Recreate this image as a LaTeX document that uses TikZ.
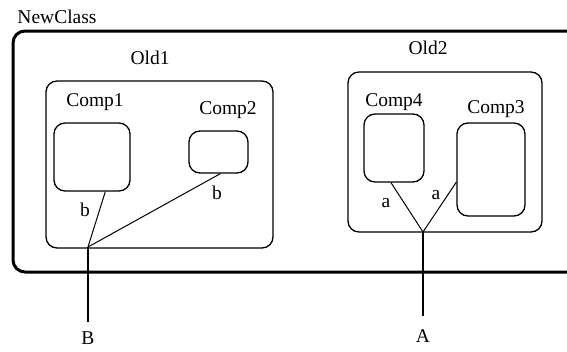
\documentclass[tikz,border=0pt]{standalone}
\usepackage{fontspec}
\setmainfont{Liberation Serif}
\usetikzlibrary{positioning}

\tikzset{
	part/.style={draw, line width=1.3pt, rounded corners=11pt, inner sep=0pt},
	tag/.style={inner sep=2pt, font=\fontsize{19.5}{23}\selectfont},
	wire/.style={line width=1pt}
}

\begin{document}
\begin{tikzpicture}[x=1pt, y=-1pt]
	%%%%% START %%%%%
	\useasboundingbox (0, 0) rectangle (567, 351);
	
	\draw[line width = 3pt, rounded corners=12pt] (567, 31) -- (13, 31) -- (13, 272) -- (567, 272);
	\node[tag] (newclass) at (57, 17) {NewClass};
	
	\node[part, minimum width=227pt, minimum height=167pt] (old1) at (159.5, 164.5) {};
	\node[tag] (old1tag) at (150, 58) {Old1};
	\node[part, minimum width=76pt, minimum height=68pt] (comp1) at (92, 157) {};
	\node[tag] (comp1tag) at (95, 102) {Comp1};
	\node[part, minimum width=59pt, minimum height=42pt] (comp2) at (218.5, 152) {};
	\node[tag] (comp2tag) at (228, 110) {Comp2};
	
	\node[part, minimum width=194pt, minimum height=160pt] (old2) at (445, 152) {};
	\node[tag] (old2tag) at (428, 48) {Old2};
	\node[part, minimum width=60pt, minimum height=68pt] (comp4) at (394, 148) {};
	\node[tag] (comp4tag) at (394, 102) {Comp4};
	\node[part, minimum width=68pt, minimum height=93pt] (comp3) at (491, 169.5) {};
	\node[tag] (comp3tag) at (496, 109) {Comp3};
	
	\coordinate (jB) at (88, 247);
	\coordinate (endB) at (88, 322);
	\draw[wire] (jB) -- (comp1.291);
	\draw[wire] (jB) -- (comp2.275);
	\draw[line width = 1.3pt] (jB) -- (endB);
	\node[tag, inner sep=0.5pt, below=9pt of endB] (portB) {B};
	\node[tag] (b1) at (85, 210) {b};
	\node[tag] (b2) at (217, 193) {b};
	
	\coordinate (jA) at (423, 232);
	\coordinate (endA) at (423, 316);
	\draw[wire] (jA) -- (comp4.265);
	\draw[wire] (jA) -- (comp3.200);
	\draw[line width = 1.3pt] (jA) -- (endA);
	\node[tag] (a1) at (386, 203) {a};
	\node[tag] (a2) at (436, 195) {a};
	\node[tag, below=11pt of endA] (portA) {A};
	%%%%% END %%%%%
\end{tikzpicture}
\end{document}
